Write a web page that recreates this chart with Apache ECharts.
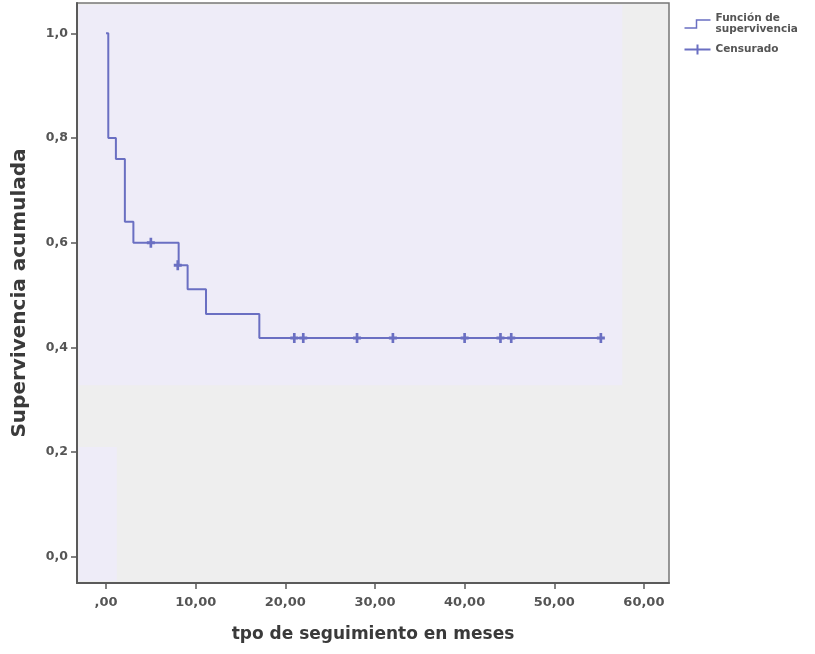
<!DOCTYPE html>
<html>
<head>
<meta charset="utf-8">
<script src="https://cdn.jsdelivr.net/npm/echarts@6/dist/echarts.min.js"></script>
<style>html,body{margin:0;padding:0;background:#fff}#c{width:815px;height:654px}</style>
</head>
<body>
<div id="c"></div>
<script>
// Kaplan-Meier step data (time in months, cumulative survival)
const stepTimes = [0, 0.25, 1.1, 2.1, 3.05, 8.1, 9.1, 11.15, 17.1, 55.2];
const stepSurv  = [1.0, 0.8, 0.76, 0.64, 0.6, 0.557, 0.511, 0.464, 0.418, 0.418];
// Censored observations
const censTimes = [5.0, 8.0, 21.0, 22.0, 28.0, 32.0, 40.0, 44.0, 45.2, 55.2];
const censSurv  = [0.6, 0.557, 0.418, 0.418, 0.418, 0.418, 0.418, 0.418, 0.418, 0.418];
// Axis ticks
const xTicks = [0, 10, 20, 30, 40, 50, 60];
const yTicks = [0, 0.2, 0.4, 0.6, 0.8, 1.0];
const seriesNames = ['Función de supervivencia', 'Censurado'];

const col = '#6a6fc2';
const axisCol = '#5a5a5a';
const font = 'DejaVu Sans';

const chart = echarts.init(document.getElementById('c'), null, {renderer: 'canvas'});
chart.setOption({
  animation: false,
  backgroundColor: '#ffffff',
  grid: {left: 77, right: 146, top: 3, bottom: 71, show: true,
         backgroundColor: '#eeeeee', borderColor: '#777', borderWidth: 1.5},
  legend: {
    orient: 'vertical', left: 677, top: 8, itemWidth: 26, itemHeight: 10, itemGap: 7,
    textStyle: {fontFamily: font, fontWeight: 'bold', fontSize: 10.5, color: '#555', lineHeight: 11},
    formatter: n => n === seriesNames[0] ? 'Función de\nsupervivencia' : n,
    data: [
      {name: seriesNames[0], icon: 'path://M0,10 L12,10 L12,2 L26,2',
       itemStyle: {color: 'none', borderColor: col, borderWidth: 1.5}},
      {name: seriesNames[1], icon: 'path://M0,5 L26,5 M13,0 L13,10',
       itemStyle: {color: 'none', borderColor: col, borderWidth: 2}}
    ]
  },
  xAxis: {
    type: 'value', min: -3.24, max: 62.8,
    name: 'tpo de seguimiento en meses', nameLocation: 'middle', nameGap: 43,
    nameTextStyle: {fontFamily: font, fontWeight: 'bold', fontSize: 17, color: '#3a3a3a'},
    axisLine: {show: true, onZero: false, lineStyle: {color: axisCol, width: 2}},
    axisTick: {show: true, length: 6, lineStyle: {color: axisCol, width: 1.5}, customValues: xTicks},
    axisLabel: {fontFamily: font, fontWeight: 'bold', fontSize: 13, color: '#555', margin: 13,
                customValues: xTicks,
                formatter: v => v === 0 ? ',00' : v.toFixed(2).replace('.', ',')},
    splitLine: {show: false}
  },
  yAxis: {
    type: 'value', min: -0.05, max: 1.058,
    name: 'Supervivencia acumulada', nameLocation: 'middle', nameGap: 47, nameRotate: 90,
    nameTextStyle: {fontFamily: font, fontWeight: 'bold', fontSize: 20, color: '#3a3a3a'},
    axisLine: {show: true, onZero: false, lineStyle: {color: axisCol, width: 2}},
    axisTick: {show: true, length: 6, lineStyle: {color: axisCol, width: 1.5}, customValues: yTicks},
    axisLabel: {fontFamily: font, fontWeight: 'bold', fontSize: 12.5, color: '#555', margin: 9,
                customValues: yTicks,
                formatter: v => v.toFixed(1).replace('.', ',')},
    splitLine: {show: false}
  },
  series: [
    {
      name: seriesNames[0], type: 'line', step: 'end', showSymbol: false, symbol: 'none',
      lineStyle: {color: col, width: 2}, itemStyle: {color: col},
      data: stepTimes.map((t, i) => [t, stepSurv[i]]),
      markArea: {silent: true, itemStyle: {color: '#eeecf8'},
        data: [
          [{coord: [-3.05, 0.328]}, {coord: [57.6, 1.054]}],
          [{coord: [-3.05, -0.046]}, {coord: [1.2, 0.21]}]
        ]},
      z: 3
    },
    {
      name: seriesNames[1], type: 'scatter',
      symbol: 'path://M3,0 L6,0 L6,3.5 L9,3.5 L9,6.5 L6,6.5 L6,10 L3,10 L3,6.5 L0,6.5 L0,3.5 L3,3.5 Z',
      symbolSize: [8, 10], itemStyle: {color: col, opacity: 1},
      data: censTimes.map((t, i) => [t, censSurv[i]]),
      z: 4
    }
  ]
});
</script>
</body>
</html>
